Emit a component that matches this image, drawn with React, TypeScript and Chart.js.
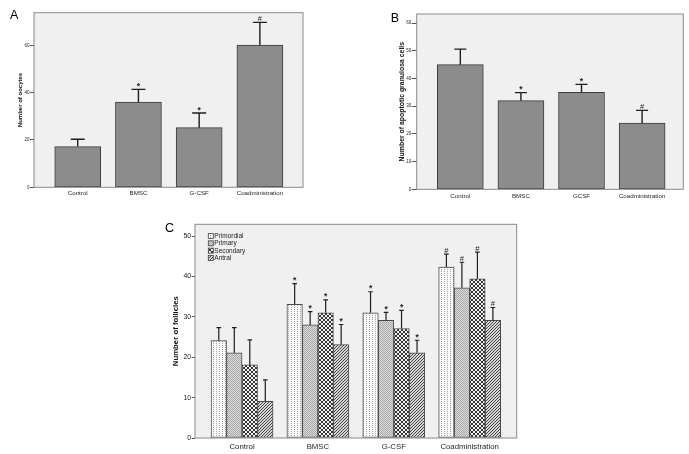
import React, { useEffect, useRef } from 'react';
import { Chart, registerables } from 'chart.js';

Chart.register(...registerables);

// ---------- Panel A: oocytes ----------
const groupsA = ['Control', 'BMSC', 'G-CSF', 'Coadministration'];
const oocyteMean = [17.2, 36.0, 25.2, 60.1];
const oocyteSD = [3.1, 5.4, 6.2, 9.6];
const oocyteSig = ['', '*', '*', '#'];

// ---------- Panel B: apoptotic granulosa cells ----------
const groupsB = ['Control', 'BMSC', 'GCSF', 'Coadministration'];
const apoptoticMean = [45.0, 32.0, 35.0, 23.9];
const apoptoticSD = [5.6, 2.9, 2.9, 4.6];
const apoptoticSig = ['', '*', '*', '#'];

// ---------- Panel C: follicles ----------
const groupsC = ['Control', 'BMSC', 'G-CSF', 'Coadministration'];
const follicleTypes = ['Primordial', 'Primary', 'Secondary', 'Antral'];
const primordialMean = [24.1, 33.1, 31.0, 42.3];
const primordialSD = [3.2, 5.1, 5.2, 3.2];
const primaryMean = [21.1, 28.0, 29.1, 37.2];
const primarySD = [6.2, 3.3, 2.0, 6.3];
const secondaryMean = [18.1, 31.0, 27.1, 39.4];
const secondarySD = [6.2, 3.2, 4.5, 6.6];
const antralMean = [9.1, 23.1, 21.1, 29.1];
const antralSD = [5.3, 5.0, 3.1, 3.2];
const follicleSig = ['', '*', '*', '#'];

const FONT = "Arial, 'Liberation Sans', sans-serif";
const PLOT_BG = '#f0f0f0';
const FRAME = '#8a8a8a';
const BAR_FILL = '#8c8c8c';
const BAR_EDGE = '#3c3c3c';

function makePattern(kind: string): CanvasPattern {
  const c = document.createElement('canvas');
  const g = c.getContext('2d')!;
  if (kind === 'Primordial') {
    c.width = 3; c.height = 2;
    g.fillStyle = '#fbfbfb'; g.fillRect(0, 0, 3, 2);
    g.fillStyle = '#a0a0a0'; g.fillRect(0, 0, 1, 1);
  } else if (kind === 'Primary') {
    c.width = 2; c.height = 2;
    g.fillStyle = '#dcdcdc'; g.fillRect(0, 0, 2, 2);
    g.fillStyle = '#a8a8a8'; g.fillRect(0, 0, 1, 1); g.fillRect(1, 1, 1, 1);
  } else if (kind === 'Secondary') {
    c.width = 4; c.height = 4;
    g.fillStyle = '#333333'; g.fillRect(0, 0, 4, 4);
    g.fillStyle = '#f2f2f2'; g.fillRect(0, 0, 2, 2); g.fillRect(2, 2, 2, 2);
  } else {
    c.width = 3; c.height = 3;
    g.fillStyle = '#d6d6d6'; g.fillRect(0, 0, 3, 3);
    g.fillStyle = '#444444'; g.fillRect(2, 0, 1, 1); g.fillRect(1, 1, 1, 1); g.fillRect(0, 2, 1, 1);
  }
  return g.createPattern(c, 'repeat')!;
}

const decorPlugin = {
  id: 'decor',
  beforeDraw(chart: any) {
    const { ctx, chartArea: a } = chart;
    ctx.save();
    ctx.fillStyle = PLOT_BG;
    ctx.fillRect(a.left, a.top, a.right - a.left, a.bottom - a.top);
    ctx.restore();
  },
  afterDatasetsDraw(chart: any) {
    const o = chart.options.plugins.decor;
    const { ctx } = chart;
    const ys = chart.scales.y;
    ctx.save();
    chart.data.datasets.forEach((ds: any, di: number) => {
      const meta = chart.getDatasetMeta(di);
      meta.data.forEach((bar: any, i: number) => {
        const v = ds.data[i].y;
        const top = ys.getPixelForValue(v + ds.sd[i]);
        ctx.strokeStyle = '#1e1e1e';
        ctx.lineWidth = o.lineWidth;
        ctx.beginPath();
        ctx.moveTo(bar.x, bar.y);
        ctx.lineTo(bar.x, top);
        ctx.moveTo(bar.x - o.capHalf, top);
        ctx.lineTo(bar.x + o.capHalf, top);
        ctx.stroke();
        const m = ds.marks[i];
        if (m) {
          ctx.fillStyle = '#1e1e1e';
          ctx.font = m === '*' ? `bold ${o.markSize + 1}px ${FONT}` : `${o.markSize}px ${FONT}`;
          ctx.textAlign = 'center';
          ctx.textBaseline = 'alphabetic';
          ctx.fillText(m, bar.x, m === '*' ? top - 0.5 : top - 1.5);
        }
      });
    });
    ctx.restore();
  },
  afterDraw(chart: any) {
    const { ctx, chartArea: a } = chart;
    const o = chart.options.plugins.decor;
    ctx.save();
    ctx.strokeStyle = FRAME;
    ctx.lineWidth = 1;
    ctx.strokeRect(a.left, a.top, a.right - a.left, a.bottom - a.top);
    if (o.legend) {
      ctx.font = `${o.legend.size}px ${FONT}`;
      ctx.textBaseline = 'middle';
      ctx.textAlign = 'left';
      chart.data.datasets.forEach((ds: any, i: number) => {
        const y = a.top + 11.7 + i * 7.33;
        const x = a.left + 13.3;
        ctx.fillStyle = ds.backgroundColor;
        ctx.fillRect(x, y - 2.5, 5, 5);
        ctx.strokeStyle = '#444';
        ctx.lineWidth = 0.8;
        ctx.strokeRect(x, y - 2.5, 5, 5);
        ctx.fillStyle = '#222';
        ctx.fillText(ds.label, x + 6, y + 0.3);
      });
    }
    ctx.restore();
  },
};

type Geo = {
  yWidth: number; padTop: number; padRight: number; xHeight: number;
  xMin: number; xMax: number; yMax: number; step: number;
  yTickSize: number; xTickSize: number; tickLen: number; xPad: number;
  title: string; titleSize: number; titlePad: number;
  capHalf: number; lineWidth: number; markSize: number; legend?: any;
};

function buildConfig(groups: string[], datasets: any[], g: Geo): any {
  return {
    type: 'bar',
    data: { datasets },
    plugins: [decorPlugin],
    options: {
      responsive: false,
      animation: false,
      devicePixelRatio: 1,
      layout: { padding: { top: g.padTop, right: g.padRight, left: 0, bottom: 0 } },
      plugins: {
        legend: { display: false },
        tooltip: { enabled: false },
        decor: { capHalf: g.capHalf, lineWidth: g.lineWidth, markSize: g.markSize, legend: g.legend },
      },
      scales: {
        x: {
          type: 'linear',
          min: g.xMin,
          max: g.xMax,
          offset: false,
          afterBuildTicks: (s: any) => { s.ticks = groups.map((_, i) => ({ value: i })); },
          afterFit: (s: any) => { s.height = g.xHeight; },
          ticks: {
            autoSkip: false,
            maxRotation: 0,
            padding: g.xPad,
            color: '#1e1e1e',
            font: { size: g.xTickSize, family: FONT },
            callback: (v: any) => groups[Math.round(v)] ?? '',
          },
          grid: { display: false, drawTicks: false },
          border: { display: false },
        },
        y: {
          min: 0,
          max: g.yMax,
          afterFit: (s: any) => { s.width = g.yWidth; },
          ticks: {
            stepSize: g.step,
            includeBounds: false,
            padding: 0.5,
            color: '#1e1e1e',
            font: { size: g.yTickSize, family: FONT },
          },
          grid: { display: true, drawOnChartArea: false, drawTicks: true, tickLength: g.tickLen, color: '#555', lineWidth: 1 },
          border: { display: false },
          title: {
            display: true,
            text: g.title,
            color: '#111',
            font: { size: g.titleSize, weight: 'bold', family: FONT },
            padding: { top: g.titlePad, bottom: 0 },
          },
        },
      },
    },
  };
}

function simpleDataset(means: number[], sd: number[], marks: string[]) {
  return {
    data: means.map((v, i) => ({ x: i, y: v })),
    sd,
    marks,
    backgroundColor: BAR_FILL,
    borderColor: BAR_EDGE,
    borderWidth: 1,
    borderSkipped: false,
    barThickness: 46,
  };
}

function ChartPanel(props: { left: number; top: number; width: number; height: number; make: () => any }) {
  const ref = useRef<HTMLCanvasElement>(null);
  useEffect(() => {
    const chart = new Chart(ref.current!, props.make());
    return () => chart.destroy();
  }, []);
  return (
    <div style={{ position: 'absolute', left: props.left, top: props.top, width: props.width, height: props.height }}>
      <canvas ref={ref} width={props.width} height={props.height} style={{ display: 'block', width: props.width, height: props.height }} />
    </div>
  );
}

const letterStyle = (left: number, top: number): React.CSSProperties => ({
  position: 'absolute', left, top, fontFamily: FONT, fontSize: 12.5, lineHeight: '12px', color: '#000', zIndex: 2,
});

export default function App() {
  const makeA = () => buildConfig(groupsA, [simpleDataset(oocyteMean, oocyteSD, oocyteSig)], {
    yWidth: 34, padTop: 12.7, padRight: 7, xHeight: 12.7,
    xMin: -0.72, xMax: 3.71, yMax: 73.8, step: 20,
    yTickSize: 4.5, xTickSize: 6.2, tickLen: 4, xPad: 2.3,
    title: 'Number of oocytes', titleSize: 6, titlePad: 16.4,
    capHalf: 7, lineWidth: 1.4, markSize: 7.5,
  });
  const makeB = () => buildConfig(groupsB, [simpleDataset(apoptoticMean, apoptoticSD, apoptoticSig)], {
    yWidth: 26.7, padTop: 14, padRight: 5.7, xHeight: 10.7,
    xMin: -0.72, xMax: 3.68, yMax: 63.3, step: 10,
    yTickSize: 4.5, xTickSize: 6.2, tickLen: 5, xPad: 3.6,
    title: 'Number of apoptotic granulosa cells', titleSize: 6.9, titlePad: 8,
    capHalf: 6, lineWidth: 1.4, markSize: 7.5,
  });
  const makeC = () => {
    const means = [primordialMean, primaryMean, secondaryMean, antralMean];
    const sds = [primordialSD, primarySD, secondarySD, antralSD];
    const ds = follicleTypes.map((t, k) => ({
      label: t,
      data: means[k].map((v, i) => ({ x: i, y: v })),
      sd: sds[k],
      marks: follicleSig,
      backgroundColor: makePattern(t),
      borderColor: '#4a4a4a',
      borderWidth: 1,
      borderSkipped: false,
      barThickness: 15.5,
    }));
    return buildConfig(groupsC, ds, {
      yWidth: 30, padTop: 9.3, padRight: 8.3, xHeight: 16,
      xMin: -0.62, xMax: 3.62, yMax: 52.9, step: 10,
      yTickSize: 6.9, xTickSize: 7.8, tickLen: 3.3, xPad: 4.6,
      title: 'Number of follicles', titleSize: 7.8, titlePad: 6,
      capHalf: 2.3, lineWidth: 1.2, markSize: 7.5,
      legend: { size: 6.5 },
    });
  };
  return (
    <div style={{ position: 'fixed', left: 0, top: 0, width: 689, height: 454, background: '#fff', overflow: 'hidden' }}>
      <ChartPanel left={0} top={0} width={310} height={200} make={makeA} />
      <ChartPanel left={390} top={0} width={299} height={200} make={makeB} />
      <ChartPanel left={165} top={215} width={360} height={239} make={makeC} />
      <div style={letterStyle(10, 9.4)}>A</div>
      <div style={letterStyle(390.7, 11.7)}>B</div>
      <div style={letterStyle(165, 221.7)}>C</div>
    </div>
  );
}
